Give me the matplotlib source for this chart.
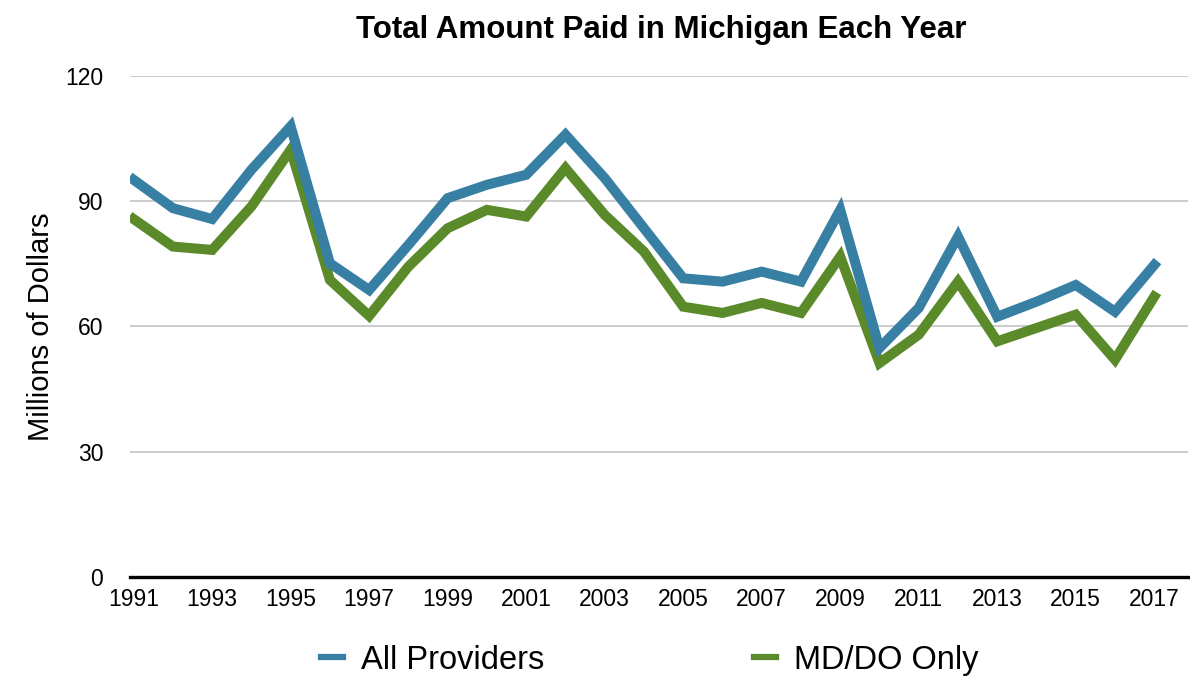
import matplotlib.pyplot as plt
from matplotlib.lines import Line2D

plt.rcParams['font.family'] = ['Liberation Sans', 'DejaVu Sans']

# Data (millions of dollars)
years = list(range(1991, 2018))
all_providers = [95.1, 88.3, 85.7, 97.5, 107.9, 75.1, 68.7, 79.5, 90.7, 93.9,
                 96.3, 105.9, 95.5, 83.5, 71.5, 70.7, 73.1, 70.7, 87.9,
                 54.8, 64.4, 81.5, 62.3, 65.9, 69.9, 63.5, 74.7]
md_do_only = [85.7, 79.1, 78.3, 88.7, 102.3, 71.1, 62.5, 74.3, 83.5, 87.9,
              86.3, 97.9, 86.7, 77.9, 64.7, 63.2, 65.6, 63.2, 76.7,
              51.2, 58.0, 70.7, 56.4, 59.6, 62.8, 52.0, 67.1]
xtick_years = list(range(1991, 2018, 2))
yticks = [0, 30, 60, 90, 120]

blue = '#387fa4'
green = '#5a8a29'

fig = plt.figure(figsize=(11.9, 6.77), dpi=100)
ax = fig.add_axes([0.109, 0.148, 0.889, 0.740])

ax.plot(years, all_providers, color=blue, lw=7.2, solid_joinstyle='miter', zorder=3)
ax.plot(years, md_do_only, color=green, lw=7.2, solid_joinstyle='miter', zorder=2)

ax.set_xlim(1990.9, 2017.85)
ax.set_ylim(0, 120)
ax.set_yticks(yticks)
ax.set_xticks(xtick_years)
ax.grid(axis='y', color='#c8c8c8', lw=1.3)
ax.set_axisbelow(True)
for s in ['top', 'right', 'left']:
    ax.spines[s].set_visible(False)
ax.spines['bottom'].set_linewidth(2.4)
ax.spines['bottom'].set_color('black')
ax.spines['bottom'].set_zorder(4)
ax.tick_params(axis='y', length=0, pad=19, labelsize=16.5)
ax.tick_params(axis='x', length=0, pad=8, labelsize=16.5)

ax.set_ylabel('Millions of Dollars', fontsize=21, labelpad=7)
fig.suptitle('Total Amount Paid in Michigan Each Year', fontsize=22.5,
             fontweight='bold', x=0.556, y=0.978)

# legend with thin handles like the original
handles = [Line2D([], [], color=blue, lw=4.5), Line2D([], [], color=green, lw=4.5)]
fig.legend(handles, ['All Providers', 'MD/DO Only'], loc='center',
           bbox_to_anchor=(0.546, 0.025), ncol=2, frameon=False,
           fontsize=23.5, handlelength=0.7, handletextpad=0.55, columnspacing=6.4)

fig.savefig('out.png')
